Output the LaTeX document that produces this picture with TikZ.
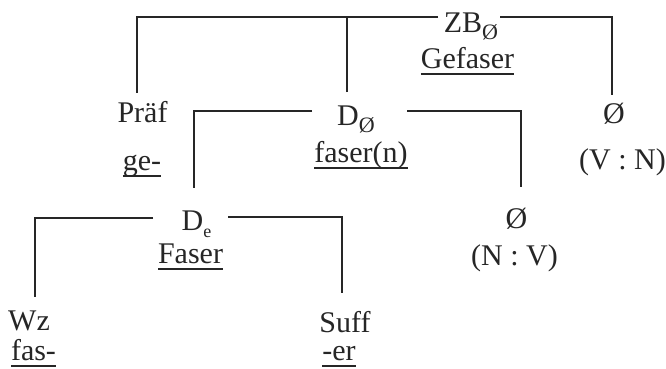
\documentclass[tikz,border=0pt]{standalone}
\usepackage{fontspec}
\setmainfont{Liberation Serif}
\newcommand\ulword[1]{\setbox0\hbox{#1}\rlap{\rule[-6.8pt]{\wd0}{1.6pt}}\box0}
\newcommand\subz[2][19]{\raisebox{-7pt}{\fontsize{#1}{#1}\selectfont #2}}
\tikzset{
  lbl/.style={inner sep=0pt, anchor=base, font=\fontsize{30}{30}\selectfont, text=black!85},
  conn/.style={line width=1.8pt, draw=black!85}
}
\begin{document}
\begin{tikzpicture}[x=1pt,y=-1pt]
\fill[white] (0,0) rectangle (666,368);
\useasboundingbox (0,0) rectangle (666,368);
\node[lbl] (zb) at (471,32) {ZB\subz[22]{Ø}};
\node[lbl] (gef) at (467.5,68) {\ulword{Gefaser}};
\node[lbl] (praef) at (142.5,122) {Präf};
\node[lbl] (ge) at (142,170) {\ulword{ge-}};
\node[lbl] (dz) at (356,125) {D\subz[22]{Ø}};
\node[lbl] (fasern) at (361,162) {\ulword{faser(n)}};
\node[lbl] (ovn) at (614,123) {Ø};
\node[lbl] (vn) at (622.5,169) {(V : N)};
\node[lbl] (onv) at (516.5,228) {Ø};
\node[lbl] (nv) at (514.5,265) {(N : V)};
\node[lbl] (de) at (196.5,230) {D\subz[18]{e}};
\node[lbl] (faser) at (190.5,263) {\ulword{Faser}};
\node[lbl] (wz) at (29,330) {Wz};
\node[lbl] (fas) at (33.5,360) {\ulword{fas-}};
\node[lbl] (suff) at (345,332) {Suff};
\node[lbl] (er) at (339,360) {\ulword{-er}};
\coordinate (zbL) at ([xshift=-33pt,yshift=15pt]zb.base);
\coordinate (dzT) at ([xshift=-9pt,yshift=33pt]dz.base);
\draw[conn] (zbL) -| ([xshift=-5.5pt,yshift=29pt]praef.base);
\draw[conn] (dzT) -- (dzT |- zbL);
\draw[conn] ([xshift=29pt,yshift=15pt]zb.base) -| ([xshift=-2pt,yshift=28pt]ovn.base);
\draw[conn] ([xshift=-44pt,yshift=14pt]dz.base) -| ([xshift=-2.5pt,yshift=42pt]de.base);
\draw[conn] ([xshift=51pt,yshift=14pt]dz.base) -| ([xshift=4.5pt,yshift=41pt]onv.base);
\draw[conn] ([xshift=-43.5pt,yshift=12pt]de.base) -| ([xshift=6pt,yshift=33pt]wz.base);
\draw[conn] ([xshift=31.5pt,yshift=13pt]de.base) -| ([xshift=-3pt,yshift=39pt]suff.base);
\end{tikzpicture}
\end{document}
